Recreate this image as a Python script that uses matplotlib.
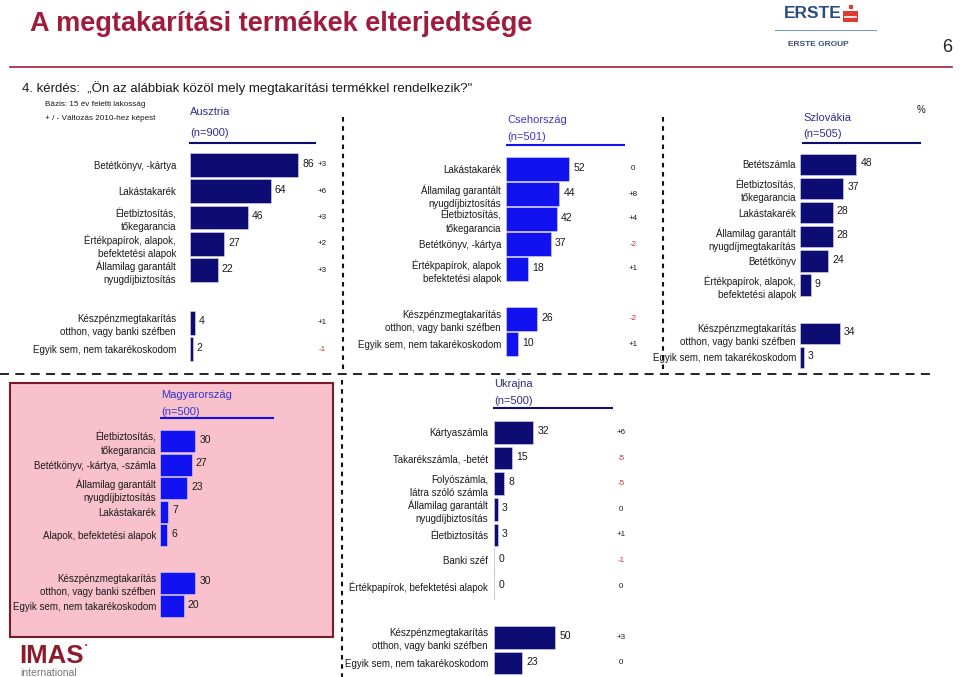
import matplotlib
matplotlib.use("Agg")
import matplotlib.pyplot as plt
from matplotlib.patches import Rectangle
from matplotlib.lines import Line2D
from matplotlib.transforms import blended_transform_factory

plt.rcParams['font.family'] = ['Liberation Sans', 'DejaVu Sans']

W, H = 960, 677

# ---------------- data ----------------
at_cats = ["Betétkönyv, -kártya", "Lakástakarék", "Életbiztosítás,\ntőkegarancia",
           "Értékpapírok, alapok,\nbefektetési alapok", "Államilag garantált\nnyugdíjbiztosítás"]
at_vals = [86, 64, 46, 27, 22]
at_chg = ["+3", "+6", "+3", "+2", "+3"]

cz_cats = ["Lakástakarék", "Államilag garantált\nnyugdíjbiztosítás", "Életbiztosítás,\ntőkegarancia",
           "Betétkönyv, -kártya", "Értékpapírok, alapok\nbefektetési alapok"]
cz_vals = [52, 44, 42, 37, 18]
cz_chg = ["0", "+8", "+4", "-2", "+1"]

sk_cats = ["Betétszámla", "Életbiztosítás,\ntőkegarancia", "Lakástakarék",
           "Államilag garantált\nnyugdíjmegtakarítás", "Betétkönyv",
           "Értékpapírok, alapok,\nbefektetési alapok"]
sk_vals = [48, 37, 28, 28, 24, 9]

hu_cats = ["Életbiztosítás,\ntőkegarancia", "Betétkönyv, -kártya, -számla",
           "Államilag garantált\nnyugdíjbiztosítás", "Lakástakarék", "Alapok, befektetési alapok"]
hu_vals = [30, 27, 23, 7, 6]

ua_cats = ["Kártyaszámla", "Takarékszámla, -betét", "Folyószámla,\nlátra szóló számla",
           "Államilag garantált\nnyugdíjbiztosítás", "Életbiztosítás", "Banki széf",
           "Értékpapírok, befektetési alapok"]
ua_vals = [32, 15, 8, 3, 3, 0, 0]
ua_chg = ["+6", "-5", "-5", "0", "+1", "-1", "0"]

extra_cats = ["Készpénzmegtakarítás\notthon, vagy banki széfben", "Egyik sem, nem takarékoskodom"]
at_extra = [4, 2]
at_extra_chg = ["+1", "-1"]
cz_extra = [26, 10]
cz_extra_chg = ["-2", "+1"]
sk_extra = [34, 3]
hu_extra = [30, 20]
ua_extra = [50, 23]
ua_extra_chg = ["+3", "0"]

NAVY = "#0c0c72"
BLUE = "#1212f0"
DARKRED = "#a01c3c"
NEGRED = "#b8342e"
TXT = "#1a1a1a"

fig = plt.figure(figsize=(W / 100, H / 100), dpi=100)


def fx(px):
    return px / W


def fy(py):
    return 1 - py / H


def ftext(x, y, s, **kw):
    fig.text(fx(x), fy(y), s, **kw)


def fline(x0, y0, x1, y1, **kw):
    fig.add_artist(Line2D([fx(x0), fx(x1)], [fy(y0), fy(y1)], transform=fig.transFigure, **kw))


def panel(cats, vals, chg, evals, echg, bar_left, scale, y0, pitch, lab_right, chg_x,
          bh, color, xmax=100, grey_axis=False):
    n = len(vals)
    names = list(cats) + extra_cats
    values = list(vals) + list(evals)
    pos = list(range(n)) + [n + 1, n + 2]
    top = y0 - pitch / 2
    height = pitch * (n + 3)
    ax = fig.add_axes([fx(bar_left), fy(top + height), xmax * scale / W, height / H])
    ax.set_xlim(0, xmax)
    ax.set_ylim(n + 2.5, -0.5)
    ax.barh(pos, values, height=bh, color=color, edgecolor="#d8d8f0", linewidth=0.4, zorder=3)
    for s in ax.spines.values():
        s.set_visible(False)
    if grey_axis:
        ax.spines['left'].set_visible(True)
        ax.spines['left'].set_color("#c8c8c8")
        ax.spines['left'].set_linewidth(0.8)
        ax.spines['left'].set_bounds(n - 2.5, n - 0.5)
    ax.set_xticks([])
    ax.set_yticks(pos)
    ax.set_yticklabels(names, fontsize=7, color=TXT)
    for t in ax.get_yticklabels():
        t.set_linespacing(1.38)
    ax.tick_params(axis='y', length=0, pad=(bar_left - lab_right) * 0.72)
    ax.patch.set_alpha(0)
    for v, p in zip(values, pos):
        ax.annotate(str(v), (v, p), xytext=(3, 1), textcoords='offset points',
                    va='center', ha='left', fontsize=7.5, color=TXT)
    if chg_x is not None:
        tr = blended_transform_factory(fig.transFigure, ax.transData)
        for c, p in zip(list(chg) + list(echg), pos):
            ax.text(fx(chg_x), p, c, transform=tr, ha='center', va='center',
                    fontsize=5.8, color=NEGRED if c.startswith('-') else TXT)
    return ax


# ---------------- header ----------------
ftext(30, 24, "A megtakarítási termékek elterjedtsége", fontsize=19.5, fontweight='bold',
      color=DARKRED, va='center', ha='left')
fline(10, 67, 952, 67, color=DARKRED, lw=1.2)
ftext(952, 47, "6", fontsize=13, color="#222222", ha='right', va='center')

# Erste logo
ftext(813, 14, "ERSTE", fontsize=12.5, fontweight='bold', color="#2b4c7e", ha='center', va='center')
fig.add_artist(Rectangle((fx(843), fy(22)), 15 / W, 11 / H, transform=fig.transFigure,
                         facecolor="#e03a30", edgecolor='none'))
fig.add_artist(Rectangle((fx(848.5), fy(9)), 4 / W, 4 / H, transform=fig.transFigure,
                         facecolor="#e03a30", edgecolor='none'))
fline(845, 16.5, 856, 16.5, color='white', lw=1.2)
fline(775, 30, 876, 30, color="#7d9cc0", lw=0.8)
ftext(818, 44, "ERSTE GROUP", fontsize=6, fontweight='bold', color="#3a5070", ha='center', va='center')

ftext(22, 88, "4. kérdés:  „Ön az alábbiak közöl mely megtakarítási termékkel rendelkezik?\"",
      fontsize=9.5, color=TXT, va='center', ha='left')
ftext(45, 105, "Bázis: 15 év feletti lakosság", fontsize=5.9, color=TXT, va='center')
ftext(45, 119, "+ / - Változás 2010-hez képest", fontsize=5.9, color=TXT, va='center')
ftext(917, 110, "%", fontsize=7, color=TXT, va='center')

# country headers
def header(x, y1, y2, yl, x2, name, n, tcol, lcol):
    ftext(x, y1, name, fontsize=8, color=tcol, va='center', ha='left')
    ftext(x, y2, n, fontsize=8, color=tcol, va='center', ha='left')
    fline(x, yl, x2, yl, color=lcol, lw=1.5)


# pink box for Hungary
fig.add_artist(Rectangle((fx(10), fy(637)), 323 / W, 254 / H, transform=fig.transFigure,
                         facecolor="#f8c1cc", edgecolor="#7b1a2a", lw=1.5, zorder=0))

header(190, 112, 133, 143, 315, "Ausztria", "(n=900)", "#2e2e8e", NAVY)
header(507, 120, 137, 145, 624, "Csehország", "(n=501)", "#3a3acf", BLUE)
header(803, 118, 134, 143, 920, "Szlovákia", "(n=505)", "#2e2e8e", NAVY)
header(161, 395, 412, 418, 273, "Magyarország", "(n=500)", "#3333cc", BLUE)
header(494, 384, 401, 408, 612, "Ukrajna", "(n=500)", "#2e2e7e", NAVY)

# separators
fline(0, 374, 930, 374, color='#111111', lw=1.3, linestyle=(0, (5, 3.5)))
fline(343, 117, 343, 371, color='#111111', lw=1.5, linestyle=(0, (2.2, 2.2)))
fline(663, 117, 663, 371, color='#111111', lw=1.5, linestyle=(0, (2.2, 2.2)))
fline(342, 380, 342, 677, color='#111111', lw=1.5, linestyle=(0, (2.2, 2.2)))

# ---------------- panels ----------------
panel(at_cats, at_vals, at_chg, at_extra, at_extra_chg, 190, 1.26, 165, 26.3, 176, 322, 0.9, NAVY)
panel(cz_cats, cz_vals, cz_chg, cz_extra, cz_extra_chg, 506, 1.21, 169, 25.0, 501, 633, 0.93, BLUE)
panel(sk_cats, sk_vals, None, sk_extra, None, 800, 1.17, 164.5, 24.1, 796, None, 0.88, NAVY)
panel(hu_cats, hu_vals, None, hu_extra, None, 160, 1.175, 441, 23.6, 156, None, 0.93, BLUE)
panel(ua_cats, ua_vals, ua_chg, ua_extra, ua_extra_chg, 494, 1.23, 432.5, 25.6, 488, 621, 0.88, NAVY,
      grey_axis=True)

# IMAS logo
ftext(19, 663, "IMAS", fontsize=18.5, fontweight='bold', color="#8e1b2a", va='baseline', ha='left')
ftext(85, 646, "•", fontsize=5, color="#8e1b2a", va='center', ha='left')
ftext(20, 672.5, "international", fontsize=7.5, color="#777777", va='center', ha='left')

fig.savefig("out.png", dpi=100)
